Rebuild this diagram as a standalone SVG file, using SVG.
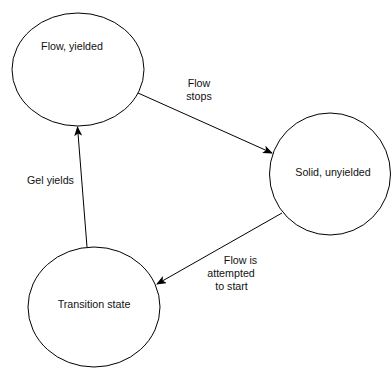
<svg xmlns="http://www.w3.org/2000/svg" width="391" height="370" viewBox="0 0 391 370">
<style>
.node{fill:#fff;stroke:#000;stroke-width:1}
.edge{fill:none;stroke:#000;stroke-width:1}
text{font-family:"Liberation Sans",Arial,sans-serif;font-size:10.7px;fill:#111;text-anchor:middle}
</style>
<defs>
<marker id="arr" viewBox="0 0 10 8" refX="9" refY="4" markerWidth="10" markerHeight="8" markerUnits="userSpaceOnUse" orient="auto">
<path d="M0,0 L10,4 L0,8 L2.5,4 Z" fill="#000"/>
</marker>
</defs>
<rect width="391" height="370" fill="#fff"/>
<g id="connectors">
<line class="edge" x1="138" y1="93" x2="272" y2="153" marker-end="url(#arr)"/>
<line class="edge" x1="282" y1="213" x2="157" y2="284" marker-end="url(#arr)"/>
<line class="edge" x1="87" y1="247" x2="77.5" y2="127" marker-end="url(#arr)"/>
<text x="199" y="87">Flow</text>
<text x="199" y="100">stops</text>
<text x="240.5" y="264">Flow is</text>
<text x="231" y="277">attempted</text>
<text x="231.5" y="290">to start</text>
<text x="50.5" y="184">Gel yields</text>
</g>
<g id="flow-yielded">
<ellipse class="node" cx="78" cy="69.5" rx="66" ry="56.5"/>
<text x="72" y="50">Flow, yielded</text>
</g>
<g id="solid-unyielded">
<ellipse class="node" cx="330" cy="174" rx="60.5" ry="61"/>
<text x="333" y="176">Solid, unyielded</text>
</g>
<g id="transition-state">
<ellipse class="node" cx="94" cy="307" rx="66" ry="60"/>
<text x="94" y="308">Transition state</text>
</g>
</svg>
